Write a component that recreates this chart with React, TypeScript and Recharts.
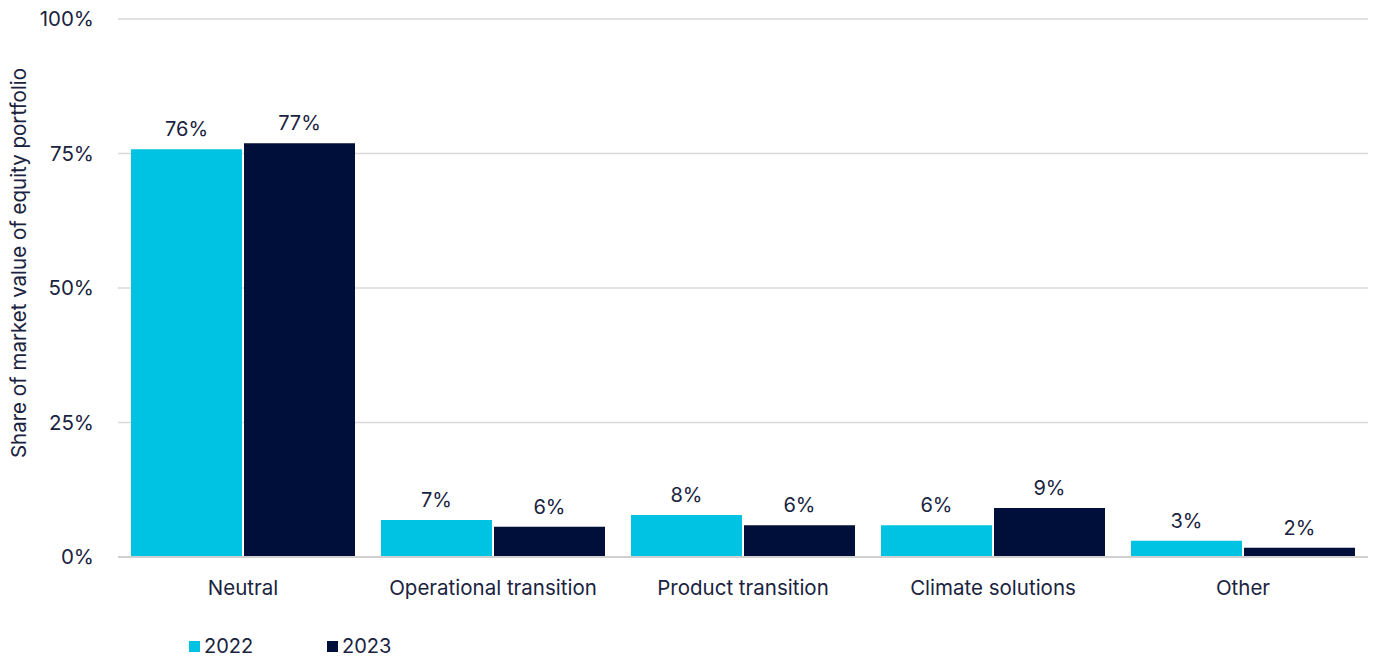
import { Bar, BarChart, CartesianGrid, LabelList, Legend, XAxis, YAxis } from 'recharts'

const categories = ['Neutral', 'Operational transition', 'Product transition', 'Climate solutions', 'Other']
const values2022 = [75.8, 6.9, 7.8, 5.9, 3.0]
const values2023 = [76.9, 5.6, 5.9, 9.1, 1.7]
const yTicks = [0, 25, 50, 75, 100]

const CYAN = '#00c3e3'
const NAVY = '#000f3a'
const TEXT = '#1a2340'
const FONT = 'Inter, "Noto Sans", sans-serif'

const data = categories.map((label, i) => ({ label, y2022: values2022[i], y2023: values2023[i] }))

const pct = (v: unknown) => `${Math.round(Number(v))}%`

function LegendBox() {
  const items = [
    { name: '2022', color: CYAN },
    { name: '2023', color: NAVY },
  ]
  return (
    <div style={{ display: 'flex', fontFamily: FONT, fontSize: 20, color: TEXT, height: 24, alignItems: 'center' }}>
      {items.map((it) => (
        <div key={it.name} style={{ display: 'flex', alignItems: 'center', width: 138 }}>
          <span style={{ width: 11, height: 11, background: it.color, marginRight: 4, display: 'inline-block' }} />
          {it.name}
        </div>
      ))}
    </div>
  )
}

export default function App() {
  return (
    <div style={{ position: 'absolute', left: 0, top: 0, background: '#fff' }}>
      <BarChart
        width={1373}
        height={656}
        data={data}
        margin={{ top: 19, right: 5, left: 0, bottom: 0 }}
        barCategoryGap={13}
        barGap={2}
      >
        <CartesianGrid vertical={false} stroke="#d9d9d9" strokeWidth={1.5} />
        <XAxis
          dataKey="label"
          height={75}
          axisLine={{ stroke: '#d0d0d0', strokeWidth: 2 }}
          tickLine={false}
          tickMargin={17}
          tick={{ fill: TEXT, fontSize: 20.5, fontFamily: FONT }}
          interval={0}
        />
        <YAxis
          width={118}
          domain={[0, 100]}
          ticks={yTicks}
          tickFormatter={(v) => `${v}%`}
          axisLine={false}
          tickLine={false}
          tickMargin={18}
          tick={{ fill: TEXT, fontSize: 20.5, fontFamily: FONT }}
          label={{
            value: 'Share of market value of equity portfolio',
            angle: -90,
            position: 'insideLeft',
            dx: 14,
            dy: -25,
            style: { fill: TEXT, fontSize: 20.5, fontFamily: FONT, textAnchor: 'middle' },
          }}
        />
        <Legend
          verticalAlign="bottom"
          align="left"
          content={<LegendBox />}
          wrapperStyle={{ left: 189, bottom: -2 }}
        />
        <Bar dataKey="y2022" name="2022" fill={CYAN} isAnimationActive={false}>
          <LabelList dataKey="y2022" position="top" offset={13} formatter={pct} fill={TEXT} fontSize={20} fontFamily={FONT} />
        </Bar>
        <Bar dataKey="y2023" name="2023" fill={NAVY} isAnimationActive={false}>
          <LabelList dataKey="y2023" position="top" offset={13} formatter={pct} fill={TEXT} fontSize={20} fontFamily={FONT} />
        </Bar>
      </BarChart>
    </div>
  )
}
